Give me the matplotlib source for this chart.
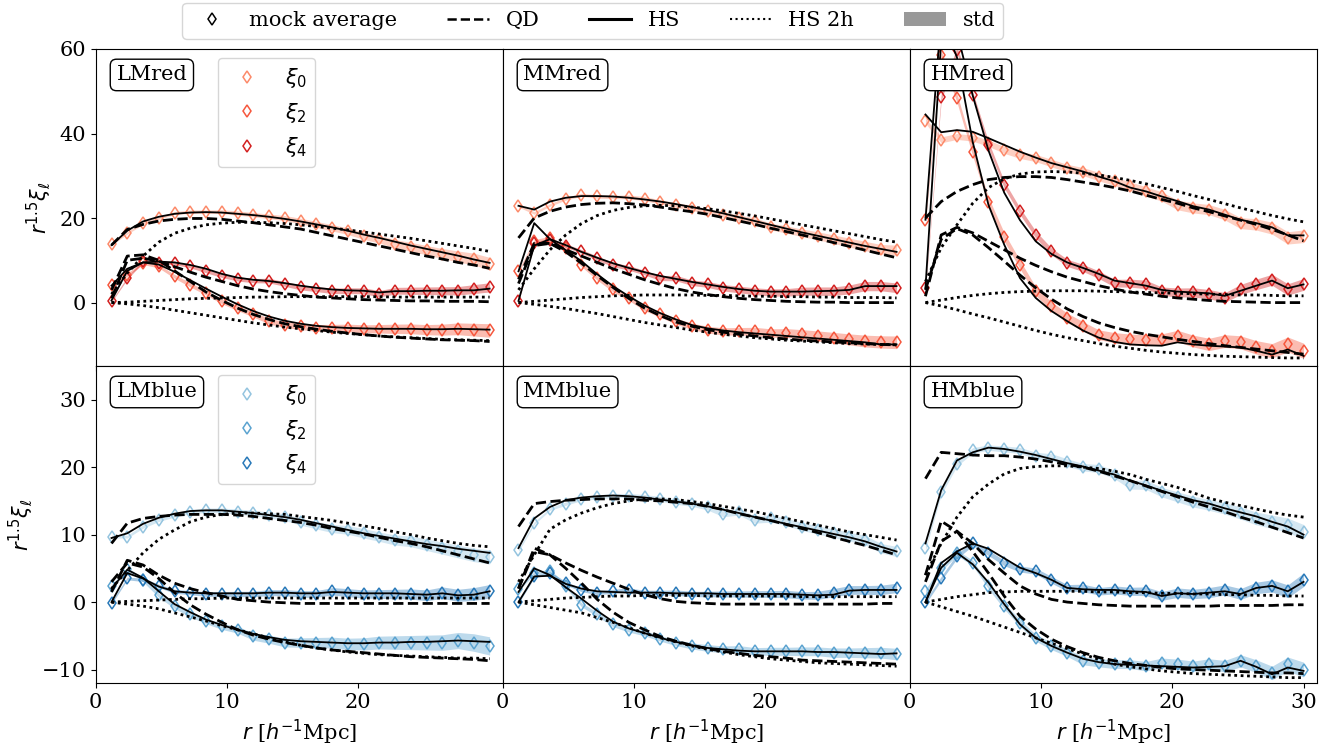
import matplotlib
matplotlib.use("Agg")
import matplotlib.pyplot as plt
from matplotlib.lines import Line2D
from matplotlib.patches import Patch

# ---------------- data ----------------
r = [1.2, 2.4, 3.6, 4.8, 6.0, 7.2, 8.4, 9.6, 10.8, 12.0, 13.2, 14.4, 15.6,
     16.8, 18.0, 19.2, 20.4, 21.6, 22.8, 24.0, 25.2, 26.4, 27.6, 28.8, 30.0]

# LMred
lmred_mock0 = [13.9, 16.5, 18.8, 20.0, 21.2, 21.5, 21.5, 21.5, 21.2, 20.8, 20.4, 20.0, 19.3, 18.5, 17.7, 16.9, 15.8, 15.0, 13.9, 13.2, 12.4, 11.6, 10.9, 10.3, 9.2]
lmred_hs0 = [13.6, 17.0, 19.2, 20.3, 21.0, 21.3, 21.4, 21.3, 21.0, 20.7, 20.3, 19.8, 19.2, 18.5, 17.8, 17.0, 16.1, 15.3, 14.4, 13.5, 12.7, 11.9, 11.1, 10.2, 9.4]
lmred_qd0 = [13.6, 17.3, 18.5, 19.3, 19.7, 19.9, 19.9, 19.7, 19.3, 18.9, 18.4, 17.9, 17.4, 16.6, 15.8, 15.0, 14.2, 13.4, 12.6, 11.8, 11.0, 10.3, 9.5, 8.9, 8.1]
lmred_2h0 = [2.0, 7.0, 11.0, 14.3, 16.4, 17.6, 18.4, 18.8, 19.0, 19.0, 18.9, 18.7, 18.4, 18.0, 17.6, 17.2, 16.7, 16.2, 15.7, 15.2, 14.6, 14.0, 13.4, 12.8, 12.1]
lmred_std0 = [0.3, 0.3, 0.3, 0.3, 0.35, 0.4, 0.4, 0.45, 0.5, 0.5, 0.55, 0.6, 0.65, 0.7, 0.75, 0.8, 0.85, 0.9, 1.0, 1.05, 1.1, 1.2, 1.3, 1.4, 1.5]
lmred_mock2 = [4.2, 6.6, 9.4, 8.6, 6.2, 4.2, 2.3, 0.3, -1.3, -2.8, -4.4, -5.2, -5.6, -6.0, -6.0, -6.0, -6.2, -6.2, -6.2, -6.2, -6.4, -6.4, -6.2, -6.4, -6.6]
lmred_hs2 = [4.0, 8.0, 9.5, 9.0, 7.3, 5.3, 3.3, 1.4, -0.4, -2.0, -3.3, -4.3, -5.0, -5.5, -5.8, -6.0, -6.1, -6.2, -6.2, -6.2, -6.3, -6.3, -6.2, -6.3, -6.4]
lmred_qd2 = [3.0, 11.0, 11.3, 10.0, 7.5, 5.0, 2.5, 0.5, -1.3, -2.8, -4.0, -5.0, -5.7, -6.3, -6.8, -7.2, -7.6, -7.9, -8.2, -8.4, -8.6, -8.8, -8.9, -9.0, -9.2]
lmred_2h2 = [0.0, -0.3, -0.7, -1.2, -1.8, -2.4, -3.0, -3.6, -4.2, -4.8, -5.3, -5.8, -6.2, -6.6, -7.0, -7.3, -7.6, -7.9, -8.1, -8.3, -8.5, -8.7, -8.8, -8.9, -9.0]
lmred_std2 = [0.3, 0.35, 0.4, 0.4, 0.45, 0.5, 0.5, 0.55, 0.6, 0.6, 0.65, 0.7, 0.75, 0.8, 0.85, 0.9, 0.95, 1.0, 1.1, 1.15, 1.2, 1.3, 1.4, 1.5, 1.6]
lmred_mock4 = [0.3, 5.8, 9.8, 9.4, 9.4, 8.6, 7.5, 6.4, 5.6, 5.2, 5.2, 4.4, 3.6, 3.2, 2.8, 2.8, 2.8, 2.1, 2.8, 2.8, 2.8, 2.8, 2.8, 3.2, 3.6]
lmred_hs4 = [0.5, 7.5, 9.5, 9.7, 9.5, 8.9, 8.0, 6.8, 5.9, 5.4, 5.1, 4.6, 4.0, 3.5, 3.1, 2.9, 2.8, 2.4, 2.7, 2.7, 2.8, 2.8, 2.9, 2.9, 3.3]
lmred_qd4 = [1.0, 10.0, 10.5, 9.8, 8.5, 7.2, 6.0, 5.0, 4.0, 3.2, 2.6, 2.1, 1.7, 1.3, 1.1, 0.9, 0.7, 0.6, 0.5, 0.4, 0.4, 0.3, 0.3, 0.3, 0.2]
lmred_2h4 = [0.0, 0.1, 0.3, 0.5, 0.7, 0.9, 1.0, 1.1, 1.2, 1.3, 1.3, 1.4, 1.4, 1.4, 1.4, 1.4, 1.4, 1.4, 1.3, 1.3, 1.3, 1.3, 1.3, 1.3, 1.3]
lmred_std4 = [0.2, 0.3, 0.3, 0.35, 0.4, 0.4, 0.45, 0.45, 0.5, 0.5, 0.55, 0.55, 0.6, 0.6, 0.65, 0.7, 0.7, 0.75, 0.8, 0.85, 0.9, 0.95, 1.0, 1.05, 1.1]

# MMred
mmred_mock0 = [22.9, 21.2, 23.1, 24.6, 25.5, 25.1, 25.0, 25.0, 24.6, 23.8, 23.1, 22.4, 21.6, 20.8, 20.0, 19.3, 18.0, 17.3, 16.5, 15.8, 15.0, 14.2, 13.4, 12.6, 12.4]
mmred_hs0 = [22.9, 22.0, 23.9, 24.8, 25.2, 25.2, 25.1, 24.8, 24.4, 23.9, 23.3, 22.6, 21.9, 21.1, 20.2, 19.3, 18.4, 17.5, 16.6, 15.8, 15.0, 14.2, 13.4, 12.7, 12.0]
mmred_qd0 = [15.3, 20.0, 21.6, 22.6, 23.2, 23.5, 23.6, 23.4, 23.1, 22.6, 22.0, 21.5, 20.9, 20.1, 19.3, 18.5, 17.6, 16.8, 16.0, 15.1, 14.2, 13.3, 12.4, 11.5, 10.6]
mmred_2h0 = [3.0, 8.0, 12.5, 16.0, 18.7, 20.6, 21.8, 22.5, 22.9, 23.0, 22.9, 22.6, 22.2, 21.7, 21.1, 20.5, 19.8, 19.1, 18.4, 17.7, 17.0, 16.3, 15.6, 14.9, 14.3]
mmred_std0 = [0.3, 0.3, 0.3, 0.35, 0.35, 0.4, 0.4, 0.45, 0.5, 0.5, 0.55, 0.6, 0.6, 0.65, 0.7, 0.75, 0.8, 0.85, 0.9, 0.95, 1.0, 1.05, 1.1, 1.15, 1.2]
mmred_mock2 = [7.4, 14.5, 15.3, 12.9, 9.0, 5.8, 3.1, 1.1, -1.3, -2.8, -4.4, -5.6, -6.4, -6.8, -6.8, -6.8, -7.2, -7.2, -7.5, -7.9, -8.3, -8.7, -9.1, -9.3, -9.4]
mmred_hs2 = [7.4, 18.8, 15.0, 12.4, 9.8, 6.7, 3.9, 1.5, -0.7, -2.5, -4.0, -5.3, -6.1, -6.6, -7.0, -7.3, -7.6, -7.9, -8.2, -8.5, -8.8, -9.1, -9.4, -9.9, -9.9]
mmred_qd2 = [4.5, 13.5, 14.0, 12.0, 9.3, 6.4, 3.6, 1.0, -1.3, -3.1, -4.6, -5.6, -6.4, -7.0, -7.5, -7.9, -8.3, -8.6, -8.9, -9.1, -9.3, -9.5, -9.7, -9.9, -10.0]
mmred_2h2 = [0.0, -0.4, -0.9, -1.4, -2.0, -2.6, -3.3, -4.0, -4.7, -5.3, -5.9, -6.5, -7.0, -7.5, -7.9, -8.3, -8.6, -8.9, -9.1, -9.3, -9.5, -9.7, -9.8, -9.9, -10.0]
mmred_std2 = [0.3, 0.4, 0.4, 0.45, 0.5, 0.5, 0.55, 0.6, 0.6, 0.65, 0.7, 0.75, 0.8, 0.85, 0.9, 0.95, 1.0, 1.05, 1.1, 1.2, 1.25, 1.3, 1.4, 1.45, 1.5]
mmred_mock4 = [0.4, 14.0, 14.8, 13.5, 12.1, 10.5, 9.0, 8.2, 7.1, 5.8, 5.8, 4.7, 4.3, 3.5, 3.1, 2.7, 2.4, 2.4, 2.7, 2.7, 2.7, 3.1, 3.9, 3.9, 3.5]
mmred_hs4 = [0.4, 13.5, 15.0, 13.6, 12.0, 10.6, 9.3, 8.2, 7.2, 6.3, 5.6, 4.9, 4.3, 3.7, 3.2, 2.8, 2.6, 2.6, 2.6, 2.7, 2.8, 3.0, 3.9, 3.9, 3.9]
mmred_qd4 = [5.5, 14.0, 14.0, 12.5, 11.0, 9.5, 8.0, 6.7, 5.4, 4.3, 3.3, 2.5, 1.9, 1.4, 1.0, 0.7, 0.5, 0.3, 0.2, 0.1, 0.1, 0.0, 0.0, 0.0, 0.0]
mmred_2h4 = [0.0, 0.3, 0.6, 0.9, 1.2, 1.4, 1.6, 1.7, 1.8, 1.8, 1.8, 1.8, 1.7, 1.7, 1.6, 1.5, 1.5, 1.4, 1.4, 1.3, 1.3, 1.2, 1.2, 1.2, 1.1]
mmred_std4 = [0.3, 0.35, 0.4, 0.4, 0.45, 0.5, 0.5, 0.55, 0.55, 0.6, 0.65, 0.65, 0.7, 0.75, 0.8, 0.8, 0.85, 0.9, 0.95, 1.0, 1.0, 1.05, 1.1, 1.1, 1.15]

# HMred
hmred_mock0 = [43.0, 38.5, 39.3, 38.9, 37.7, 36.1, 34.9, 34.2, 33.0, 31.8, 31.0, 29.8, 28.7, 27.5, 26.3, 25.1, 23.1, 22.4, 22.0, 20.8, 18.8, 18.5, 17.6, 15.3, 15.7]
hmred_hs0 = [44.5, 40.3, 40.8, 40.4, 38.9, 37.3, 35.7, 34.3, 33.0, 32.0, 31.0, 29.8, 28.7, 27.2, 26.3, 25.1, 24.0, 22.8, 22.0, 20.8, 19.6, 18.8, 17.8, 15.9, 15.9]
hmred_qd0 = [20.0, 23.9, 26.3, 27.9, 29.1, 29.6, 29.8, 29.8, 29.6, 29.1, 28.5, 27.9, 27.2, 26.4, 25.4, 24.4, 23.5, 22.4, 21.5, 20.5, 19.5, 18.5, 17.3, 16.0, 14.6]
hmred_2h0 = [5.0, 13.0, 18.4, 23.5, 27.2, 29.3, 30.4, 30.9, 31.0, 30.9, 30.6, 30.2, 29.6, 28.9, 28.1, 27.2, 26.3, 25.3, 24.4, 23.4, 22.4, 21.5, 20.6, 19.8, 19.1]
hmred_std0 = [0.6, 0.7, 0.7, 0.7, 0.75, 0.8, 0.8, 0.85, 0.9, 0.9, 0.95, 1.0, 1.0, 1.05, 1.1, 1.1, 1.15, 1.2, 1.2, 1.25, 1.3, 1.35, 1.4, 1.45, 1.5]
hmred_mock2 = [19.6, 58.6, 48.4, 35.7, 23.9, 15.5, 9.0, 2.7, -0.9, -3.6, -5.6, -7.6, -8.3, -8.7, -8.9, -8.7, -7.9, -9.1, -9.9, -9.1, -9.4, -10.6, -11.4, -9.9, -11.4]
hmred_hs2 = [19.6, 68.0, 58.0, 38.0, 23.1, 13.7, 5.8, 1.1, -2.0, -4.4, -6.6, -8.3, -9.3, -9.9, -10.1, -10.2, -9.4, -9.9, -10.2, -10.4, -10.6, -11.4, -12.3, -11.1, -12.6]
hmred_qd2 = [3.0, 15.0, 17.5, 16.0, 13.0, 9.8, 6.5, 3.5, 0.8, -1.5, -3.3, -4.8, -5.9, -6.8, -7.5, -8.1, -8.7, -9.2, -9.7, -10.2, -10.6, -11.0, -11.4, -11.8, -12.2]
hmred_2h2 = [0.0, -0.8, -1.7, -2.7, -3.6, -4.6, -5.6, -6.6, -7.5, -8.3, -9.0, -9.7, -10.3, -10.8, -11.3, -11.7, -12.0, -12.3, -12.5, -12.7, -12.8, -12.9, -13.0, -13.1, -13.1]
hmred_std2 = [0.8, 1.0, 1.0, 1.0, 1.0, 1.0, 1.0, 1.0, 1.05, 1.1, 1.1, 1.15, 1.2, 1.25, 1.3, 1.3, 1.35, 1.4, 1.45, 1.5, 1.55, 1.6, 1.7, 1.75, 1.8]
hmred_mock4 = [3.5, 48.6, 59.7, 49.1, 37.3, 27.9, 21.6, 16.1, 12.1, 9.4, 8.2, 6.6, 4.6, 4.6, 4.3, 2.7, 2.4, 2.4, 2.0, 1.2, 3.1, 4.3, 5.4, 3.1, 4.3]
hmred_hs4 = [3.5, 62.0, 64.0, 49.0, 36.0, 26.0, 19.5, 14.5, 11.5, 9.5, 8.2, 6.8, 5.2, 4.6, 4.0, 3.0, 2.6, 2.4, 2.2, 1.6, 2.8, 4.0, 5.2, 3.4, 4.3]
hmred_qd4 = [1.5, 16.0, 17.8, 16.5, 14.5, 12.5, 10.5, 8.8, 7.3, 6.0, 5.0, 4.0, 3.2, 2.5, 2.0, 1.5, 1.1, 0.8, 0.5, 0.3, 0.2, 0.1, 0.0, 0.0, 0.0]
hmred_2h4 = [0.0, 0.6, 1.2, 1.7, 2.1, 2.4, 2.6, 2.7, 2.8, 2.8, 2.8, 2.7, 2.6, 2.5, 2.4, 2.3, 2.2, 2.1, 2.0, 1.9, 1.8, 1.8, 1.7, 1.6, 1.6]
hmred_std4 = [0.6, 0.8, 0.8, 0.8, 0.8, 0.8, 0.8, 0.8, 0.8, 0.85, 0.85, 0.9, 0.9, 0.95, 1.0, 1.0, 1.05, 1.1, 1.1, 1.15, 1.2, 1.25, 1.3, 1.35, 1.4]

# LMblue
lmblue_mock0 = [9.7, 9.7, 11.2, 12.2, 12.9, 13.4, 13.6, 13.6, 13.4, 13.2, 12.9, 12.6, 11.9, 11.4, 10.9, 10.7, 10.2, 9.7, 9.2, 9.0, 8.5, 8.0, 7.5, 7.0, 6.7]
lmblue_hs0 = [9.5, 10.2, 11.6, 12.5, 13.1, 13.5, 13.6, 13.6, 13.4, 13.2, 12.9, 12.6, 12.2, 11.7, 11.2, 10.7, 10.2, 9.8, 9.4, 9.0, 8.6, 8.3, 7.9, 7.6, 7.3]
lmblue_qd0 = [8.7, 11.7, 12.4, 12.7, 12.9, 13.0, 13.0, 13.0, 12.9, 12.7, 12.4, 12.1, 11.8, 11.4, 10.9, 10.5, 10.1, 9.6, 9.1, 8.7, 8.2, 7.6, 7.0, 6.4, 5.8]
lmblue_2h0 = [2.0, 4.7, 7.3, 9.3, 10.7, 11.9, 12.6, 13.0, 13.2, 13.2, 13.1, 13.0, 12.7, 12.4, 12.1, 11.7, 11.3, 10.9, 10.4, 10.0, 9.5, 9.1, 8.7, 8.4, 8.2]
lmblue_std0 = [0.2, 0.2, 0.25, 0.25, 0.3, 0.3, 0.35, 0.35, 0.4, 0.4, 0.45, 0.5, 0.5, 0.55, 0.6, 0.65, 0.7, 0.7, 0.75, 0.8, 0.85, 0.9, 0.95, 1.0, 1.05]
lmblue_mock2 = [2.4, 4.9, 3.3, 1.0, -0.6, -1.8, -2.8, -3.6, -4.1, -5.1, -5.5, -6.0, -6.0, -6.0, -6.0, -6.2, -6.2, -6.0, -6.0, -6.0, -6.0, -6.0, -5.7, -6.0, -6.5]
lmblue_hs2 = [2.0, 4.8, 3.6, 1.6, -0.3, -1.5, -2.6, -3.4, -4.1, -4.7, -5.2, -5.6, -5.8, -5.9, -6.0, -6.1, -6.1, -6.0, -6.0, -5.9, -5.9, -5.8, -5.7, -5.8, -5.9]
lmblue_qd2 = [3.0, 5.8, 5.2, 3.5, 1.4, -0.4, -1.8, -3.0, -4.1, -4.9, -5.5, -6.0, -6.4, -6.8, -7.1, -7.3, -7.5, -7.7, -7.9, -8.1, -8.2, -8.3, -8.4, -8.5, -8.7]
lmblue_2h2 = [0.0, -0.3, -0.6, -1.0, -1.6, -2.2, -2.8, -3.5, -4.1, -4.7, -5.3, -5.9, -6.4, -6.8, -7.1, -7.4, -7.6, -7.8, -7.9, -8.0, -8.1, -8.2, -8.3, -8.3, -8.4]
lmblue_std2 = [0.2, 0.25, 0.3, 0.3, 0.35, 0.4, 0.4, 0.45, 0.5, 0.55, 0.6, 0.65, 0.7, 0.75, 0.8, 0.85, 0.9, 0.95, 1.0, 1.05, 1.1, 1.15, 1.2, 1.3, 1.35]
lmblue_mock4 = [-0.1, 3.5, 3.3, 2.4, 1.6, 1.4, 1.2, 1.2, 1.2, 1.2, 1.4, 1.4, 1.2, 1.2, 1.6, 1.4, 1.2, 1.2, 1.2, 1.2, 1.0, 1.4, 1.0, 1.2, 1.6]
lmblue_hs4 = [0.0, 4.3, 3.5, 2.3, 1.6, 1.4, 1.3, 1.3, 1.3, 1.3, 1.4, 1.4, 1.3, 1.3, 1.5, 1.4, 1.3, 1.3, 1.3, 1.2, 1.1, 1.3, 1.0, 1.1, 1.6]
lmblue_qd4 = [1.5, 6.2, 5.5, 4.0, 2.8, 2.0, 1.4, 0.9, 0.4, 0.2, 0.0, -0.1, -0.2, -0.2, -0.2, -0.2, -0.2, -0.2, -0.2, -0.2, -0.2, -0.2, -0.2, -0.2, -0.2]
lmblue_2h4 = [0.0, 0.1, 0.2, 0.3, 0.4, 0.5, 0.5, 0.6, 0.6, 0.6, 0.6, 0.6, 0.6, 0.6, 0.6, 0.6, 0.6, 0.6, 0.6, 0.6, 0.6, 0.6, 0.6, 0.6, 0.6]
lmblue_std4 = [0.2, 0.2, 0.25, 0.25, 0.3, 0.3, 0.35, 0.35, 0.4, 0.4, 0.45, 0.45, 0.5, 0.5, 0.55, 0.6, 0.6, 0.65, 0.7, 0.75, 0.8, 0.85, 0.9, 0.95, 1.0]

# MMblue
mmblue_mock0 = [7.7, 11.7, 13.8, 14.6, 15.3, 15.6, 15.8, 15.8, 15.6, 15.3, 14.9, 14.6, 14.1, 13.1, 13.4, 12.2, 12.4, 11.9, 11.2, 10.7, 10.2, 9.7, 9.2, 8.0, 7.5]
mmblue_hs0 = [8.0, 12.4, 14.1, 15.1, 15.5, 15.7, 15.8, 15.7, 15.5, 15.2, 14.9, 14.6, 14.2, 13.7, 13.2, 12.6, 12.1, 11.6, 11.1, 10.6, 10.1, 9.6, 9.0, 8.2, 7.5]
mmblue_qd0 = [11.2, 14.6, 14.9, 15.1, 15.2, 15.3, 15.3, 15.3, 15.1, 15.0, 14.8, 14.6, 14.2, 13.7, 13.1, 12.6, 12.1, 11.5, 10.9, 10.3, 9.6, 9.0, 8.4, 7.7, 7.0]
mmblue_2h0 = [3.0, 7.0, 10.8, 12.2, 13.2, 14.0, 14.6, 15.0, 15.3, 15.3, 15.2, 14.9, 14.6, 14.2, 13.8, 13.4, 12.9, 12.4, 11.9, 11.4, 10.9, 10.4, 10.0, 9.6, 9.2]
mmblue_std0 = [0.2, 0.2, 0.2, 0.25, 0.25, 0.3, 0.3, 0.3, 0.35, 0.35, 0.4, 0.4, 0.45, 0.45, 0.5, 0.5, 0.55, 0.55, 0.6, 0.6, 0.65, 0.65, 0.7, 0.7, 0.75]
mmblue_mock2 = [1.9, 4.3, 4.6, 2.4, -0.4, -1.8, -3.3, -4.1, -4.6, -5.4, -6.0, -6.5, -6.8, -7.0, -7.0, -7.3, -7.3, -7.3, -7.3, -7.3, -7.5, -7.5, -7.5, -7.5, -7.7]
mmblue_hs2 = [1.5, 5.0, 4.0, 2.2, 0.5, -1.3, -2.9, -3.9, -4.6, -5.3, -5.9, -6.4, -6.8, -7.0, -7.2, -7.3, -7.3, -7.3, -7.3, -7.4, -7.4, -7.5, -7.6, -7.7, -7.6]
mmblue_qd2 = [2.0, 8.0, 7.0, 5.0, 2.8, 0.4, -1.5, -3.0, -4.1, -5.1, -5.8, -6.4, -6.9, -7.3, -7.6, -7.9, -8.1, -8.3, -8.6, -8.7, -8.8, -8.9, -9.0, -9.1, -9.2]
mmblue_2h2 = [0.0, -0.4, -0.8, -1.2, -1.6, -2.3, -3.0, -3.8, -4.6, -5.3, -5.9, -6.5, -7.0, -7.4, -7.8, -8.1, -8.4, -8.6, -8.8, -9.0, -9.1, -9.2, -9.3, -9.4, -9.5]
mmblue_std2 = [0.2, 0.2, 0.25, 0.25, 0.3, 0.3, 0.35, 0.35, 0.4, 0.4, 0.45, 0.45, 0.5, 0.5, 0.55, 0.55, 0.6, 0.6, 0.65, 0.65, 0.7, 0.7, 0.75, 0.8, 0.85]
mmblue_mock4 = [0.0, 3.8, 4.3, 2.8, 1.8, 1.4, 1.6, 1.8, 1.4, 1.4, 1.4, 1.2, 1.2, 1.2, 1.2, 1.2, 1.2, 1.2, 1.0, 1.0, 1.4, 1.8, 1.8, 1.8, 2.1]
mmblue_hs4 = [0.0, 3.8, 3.9, 2.7, 2.0, 1.6, 1.5, 1.4, 1.4, 1.4, 1.3, 1.3, 1.3, 1.2, 1.2, 1.2, 1.2, 1.2, 1.1, 1.0, 1.1, 1.7, 1.8, 1.8, 1.8]
mmblue_qd4 = [2.0, 7.5, 7.0, 5.8, 4.7, 3.7, 2.8, 1.9, 1.1, 0.5, 0.1, -0.1, -0.2, -0.3, -0.3, -0.3, -0.3, -0.3, -0.3, -0.3, -0.3, -0.3, -0.3, -0.2, -0.2]
mmblue_2h4 = [0.0, 0.2, 0.4, 0.6, 0.7, 0.8, 0.9, 0.9, 1.0, 1.0, 1.0, 1.0, 0.9, 0.9, 0.9, 0.9, 0.9, 0.9, 0.8, 0.8, 0.8, 0.8, 0.8, 0.8, 0.8]
mmblue_std4 = [0.2, 0.2, 0.2, 0.25, 0.25, 0.3, 0.3, 0.3, 0.35, 0.35, 0.4, 0.4, 0.4, 0.45, 0.45, 0.5, 0.5, 0.55, 0.55, 0.6, 0.6, 0.65, 0.65, 0.7, 0.7]

# HMblue
hmblue_mock0 = [8.0, 16.3, 20.5, 22.5, 22.9, 22.7, 22.5, 21.7, 21.5, 20.7, 20.0, 19.8, 18.9, 17.4, 17.4, 16.3, 15.6, 14.9, 14.4, 13.9, 13.2, 12.4, 11.9, 11.4, 10.4]
hmblue_hs0 = [8.7, 16.6, 21.0, 22.2, 22.9, 22.7, 22.3, 21.8, 21.2, 20.6, 20.1, 19.5, 18.9, 18.0, 17.3, 16.5, 15.8, 15.1, 14.6, 13.9, 13.3, 12.7, 11.9, 11.2, 10.0]
hmblue_qd0 = [18.3, 22.2, 22.0, 21.8, 21.7, 21.7, 21.5, 21.2, 20.8, 20.4, 20.0, 19.4, 18.7, 18.0, 17.2, 16.4, 15.6, 14.8, 14.1, 13.4, 12.6, 11.9, 11.1, 10.3, 9.5]
hmblue_2h0 = [4.0, 8.7, 12.6, 15.6, 17.5, 19.0, 19.8, 20.1, 20.2, 20.2, 20.0, 19.8, 19.4, 18.9, 18.2, 17.6, 17.0, 16.2, 15.4, 14.8, 14.3, 13.8, 13.3, 12.9, 12.6]
hmblue_std0 = [0.3, 0.35, 0.35, 0.4, 0.4, 0.45, 0.45, 0.5, 0.5, 0.55, 0.55, 0.6, 0.6, 0.65, 0.7, 0.7, 0.75, 0.8, 0.8, 0.85, 0.9, 0.95, 1.0, 1.05, 1.1]
hmblue_mock2 = [1.6, 5.0, 7.3, 5.8, 2.4, -0.6, -3.1, -5.3, -6.5, -7.5, -8.7, -9.0, -9.2, -9.2, -9.5, -9.0, -9.2, -9.5, -9.2, -9.5, -8.7, -9.5, -10.5, -9.2, -10.0]
hmblue_hs2 = [0.0, 5.1, 7.3, 5.6, 2.9, -0.3, -3.3, -5.3, -6.5, -7.5, -8.4, -8.9, -9.2, -9.3, -9.4, -9.5, -9.6, -9.7, -9.6, -9.5, -8.7, -9.6, -10.7, -9.7, -10.2]
hmblue_qd2 = [4.0, 12.0, 10.5, 7.5, 4.3, 0.9, -2.1, -4.0, -5.5, -6.6, -7.5, -8.2, -8.7, -9.1, -9.4, -9.7, -9.9, -10.0, -10.1, -10.2, -10.3, -10.4, -10.5, -10.5, -10.6]
hmblue_2h2 = [0.0, -0.7, -1.4, -2.1, -2.9, -3.7, -4.5, -5.3, -6.1, -6.9, -7.7, -8.5, -9.2, -9.6, -9.9, -10.2, -10.4, -10.6, -10.7, -10.8, -10.9, -11.0, -11.1, -11.2, -11.2]
hmblue_std2 = [0.3, 0.35, 0.4, 0.4, 0.45, 0.45, 0.5, 0.5, 0.55, 0.55, 0.6, 0.6, 0.65, 0.65, 0.7, 0.7, 0.75, 0.75, 0.8, 0.85, 0.9, 0.95, 1.0, 1.05, 1.1]
hmblue_mock4 = [0.0, 3.5, 6.8, 8.7, 7.3, 5.8, 4.9, 4.6, 3.3, 2.1, 2.1, 1.6, 1.8, 1.6, 1.6, 0.9, 1.4, 1.2, 1.4, 1.8, 1.2, 2.1, 2.4, 1.6, 3.3]
hmblue_hs4 = [0.0, 5.8, 7.5, 8.7, 7.9, 6.5, 5.1, 4.3, 3.3, 2.1, 1.9, 1.8, 1.8, 1.6, 1.5, 0.9, 1.3, 1.2, 1.4, 1.6, 1.2, 2.1, 2.4, 1.6, 3.0]
hmblue_qd4 = [3.0, 9.0, 10.5, 8.7, 6.3, 4.3, 2.4, 1.2, 0.4, 0.0, -0.2, -0.4, -0.5, -0.6, -0.6, -0.6, -0.6, -0.6, -0.6, -0.5, -0.5, -0.5, -0.5, -0.4, -0.4]
hmblue_2h4 = [0.0, 0.4, 0.8, 1.1, 1.4, 1.5, 1.6, 1.6, 1.6, 1.6, 1.6, 1.5, 1.5, 1.4, 1.4, 1.3, 1.3, 1.2, 1.2, 1.1, 1.1, 1.0, 1.0, 0.9, 0.9]
hmblue_std4 = [0.3, 0.3, 0.35, 0.35, 0.4, 0.4, 0.45, 0.45, 0.5, 0.5, 0.55, 0.55, 0.6, 0.6, 0.65, 0.65, 0.7, 0.7, 0.75, 0.75, 0.8, 0.85, 0.9, 0.95, 1.0]

panel_names = ["LMred", "MMred", "HMred", "LMblue", "MMblue", "HMblue"]
multipole_labels = [r"$\xi_0$", r"$\xi_2$", r"$\xi_4$"]
legend_labels = ["mock average", "QD", "HS", "HS 2h", "std"]

mock = [[lmred_mock0, lmred_mock2, lmred_mock4], [mmred_mock0, mmred_mock2, mmred_mock4],
        [hmred_mock0, hmred_mock2, hmred_mock4], [lmblue_mock0, lmblue_mock2, lmblue_mock4],
        [mmblue_mock0, mmblue_mock2, mmblue_mock4], [hmblue_mock0, hmblue_mock2, hmblue_mock4]]
hs = [[lmred_hs0, lmred_hs2, lmred_hs4], [mmred_hs0, mmred_hs2, mmred_hs4],
      [hmred_hs0, hmred_hs2, hmred_hs4], [lmblue_hs0, lmblue_hs2, lmblue_hs4],
      [mmblue_hs0, mmblue_hs2, mmblue_hs4], [hmblue_hs0, hmblue_hs2, hmblue_hs4]]
qd = [[lmred_qd0, lmred_qd2, lmred_qd4], [mmred_qd0, mmred_qd2, mmred_qd4],
      [hmred_qd0, hmred_qd2, hmred_qd4], [lmblue_qd0, lmblue_qd2, lmblue_qd4],
      [mmblue_qd0, mmblue_qd2, mmblue_qd4], [hmblue_qd0, hmblue_qd2, hmblue_qd4]]
h2 = [[lmred_2h0, lmred_2h2, lmred_2h4], [mmred_2h0, mmred_2h2, mmred_2h4],
      [hmred_2h0, hmred_2h2, hmred_2h4], [lmblue_2h0, lmblue_2h2, lmblue_2h4],
      [mmblue_2h0, mmblue_2h2, mmblue_2h4], [hmblue_2h0, hmblue_2h2, hmblue_2h4]]
std = [[lmred_std0, lmred_std2, lmred_std4], [mmred_std0, mmred_std2, mmred_std4],
       [hmred_std0, hmred_std2, hmred_std4], [lmblue_std0, lmblue_std2, lmblue_std4],
       [mmblue_std0, mmblue_std2, mmblue_std4], [hmblue_std0, hmblue_std2, hmblue_std4]]

# ---------------- plot ----------------
plt.rcParams["font.family"] = ["DejaVu Serif"]
plt.rcParams["mathtext.fontset"] = "dejavusans"
FS = 15
DOT = (0, (1, 1.3))

fig, axes = plt.subplots(2, 3, figsize=(13.43, 7.51), dpi=100, sharey="row",
                         gridspec_kw=dict(hspace=0, wspace=0))
fig.subplots_adjust(left=0.0713, right=0.9804, top=0.9348, bottom=0.0905)

reds = plt.get_cmap("Reds")
blues = plt.get_cmap("Blues")
row_colors = [[reds(0.4), reds(0.55), reds(0.72)], [blues(0.4), blues(0.55), blues(0.72)]]
ylims = [(-15, 60), (-12, 35)]

for p, ax in enumerate(axes.flat):
    row, col = divmod(p, 3)
    cols = row_colors[row]
    for l in range(3):
        c = cols[l]
        lo = [m - s for m, s in zip(mock[p][l], std[p][l])]
        hi = [m + s for m, s in zip(mock[p][l], std[p][l])]
        ax.fill_between(r, lo, hi, color=c, alpha=0.4, lw=0, zorder=1)
        ax.plot(r, mock[p][l], ls="none", marker="d", ms=6.3, mfc="none",
                mec=c, mew=1.1, zorder=2, label=multipole_labels[l])
        ax.plot(r, qd[p][l], ls="--", color="k", lw=2.0, zorder=3)
        ax.plot(r, h2[p][l], ls=DOT, color="k", lw=2.0, zorder=3)
        ax.plot(r, hs[p][l], ls="-", color="k", lw=1.3, zorder=4)
    ax.set_xlim(0, 31)
    ax.set_ylim(*ylims[row])
    ax.set_xticks([0, 10, 20, 30] if col == 2 else [0, 10, 20])
    ax.tick_params(labelsize=FS)
    if row == 0:
        ax.tick_params(labelbottom=False)
    else:
        ax.set_xlabel(r"$r$ [$h^{-1}$Mpc]", fontsize=FS)
    if col == 0:
        ax.set_ylabel(r"$r^{1.5}\xi_\ell$", fontsize=FS)
        ax.legend(loc="upper left", bbox_to_anchor=(0.30, 0.972), borderaxespad=0,
                  fontsize=FS)
    else:
        ax.tick_params(axis="y", left=False)
    ax.text(0.051, 0.948, panel_names[p], transform=ax.transAxes, ha="left", va="top",
            fontsize=FS, zorder=10,
            bbox=dict(boxstyle="round,pad=0.3", fc="white", ec="black"))

handles = [Line2D([], [], ls="none", marker="d", ms=6.3, mfc="none", mec="k", mew=1.1),
           Line2D([], [], ls="--", color="k", lw=1.8),
           Line2D([], [], ls="-", color="k", lw=2.2),
           Line2D([], [], ls=":", color="k", lw=1.5),
           Patch(fc="#999999", ec="none")]
fig.legend(handles, legend_labels, ncol=5, loc="upper center",
           bbox_to_anchor=(0.4415, 0.999), borderaxespad=0.1, columnspacing=2.4,
           fontsize=FS, frameon=True)

fig.savefig("out.png", dpi=100)
